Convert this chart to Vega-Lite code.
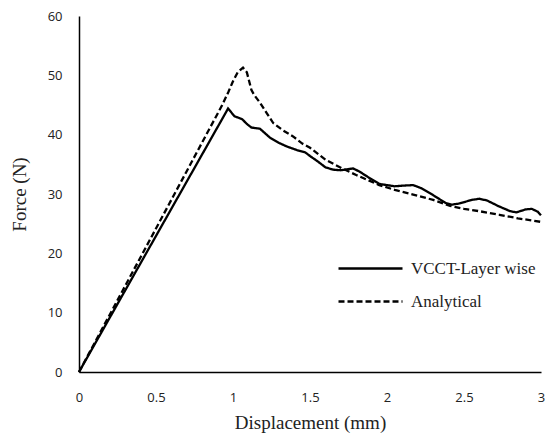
{
  "$schema": "https://vega.github.io/schema/vega-lite/v6.json",
  "width": 462,
  "height": 356,
  "autosize": {"type": "none"},
  "padding": {"left": 79, "top": 16, "right": 6, "bottom": 67},
  "background": "white",
  "config": {"view": {"stroke": null}},
  "data": {"values": [
    {"s": "VCCT-Layer wise", "x": 0, "y": 0},
    {"s": "VCCT-Layer wise", "x": 0.968, "y": 44.4},
    {"s": "VCCT-Layer wise", "x": 1.01, "y": 43.1},
    {"s": "VCCT-Layer wise", "x": 1.06, "y": 42.6},
    {"s": "VCCT-Layer wise", "x": 1.09, "y": 41.8},
    {"s": "VCCT-Layer wise", "x": 1.12, "y": 41.2},
    {"s": "VCCT-Layer wise", "x": 1.175, "y": 41.0},
    {"s": "VCCT-Layer wise", "x": 1.24, "y": 39.5},
    {"s": "VCCT-Layer wise", "x": 1.3, "y": 38.6},
    {"s": "VCCT-Layer wise", "x": 1.35, "y": 38.0},
    {"s": "VCCT-Layer wise", "x": 1.415, "y": 37.4},
    {"s": "VCCT-Layer wise", "x": 1.47, "y": 37.0},
    {"s": "VCCT-Layer wise", "x": 1.5, "y": 36.4},
    {"s": "VCCT-Layer wise", "x": 1.55, "y": 35.5},
    {"s": "VCCT-Layer wise", "x": 1.6, "y": 34.5},
    {"s": "VCCT-Layer wise", "x": 1.65, "y": 34.1},
    {"s": "VCCT-Layer wise", "x": 1.7, "y": 34.0},
    {"s": "VCCT-Layer wise", "x": 1.75, "y": 34.2},
    {"s": "VCCT-Layer wise", "x": 1.78, "y": 34.3},
    {"s": "VCCT-Layer wise", "x": 1.82, "y": 33.8},
    {"s": "VCCT-Layer wise", "x": 1.88, "y": 32.8},
    {"s": "VCCT-Layer wise", "x": 1.95, "y": 31.7},
    {"s": "VCCT-Layer wise", "x": 2.0, "y": 31.5},
    {"s": "VCCT-Layer wise", "x": 2.05, "y": 31.3},
    {"s": "VCCT-Layer wise", "x": 2.1, "y": 31.4},
    {"s": "VCCT-Layer wise", "x": 2.17, "y": 31.5},
    {"s": "VCCT-Layer wise", "x": 2.22, "y": 31.0},
    {"s": "VCCT-Layer wise", "x": 2.3, "y": 29.8},
    {"s": "VCCT-Layer wise", "x": 2.38, "y": 28.5},
    {"s": "VCCT-Layer wise", "x": 2.42, "y": 28.2},
    {"s": "VCCT-Layer wise", "x": 2.47, "y": 28.4},
    {"s": "VCCT-Layer wise", "x": 2.55, "y": 29.0},
    {"s": "VCCT-Layer wise", "x": 2.6, "y": 29.2},
    {"s": "VCCT-Layer wise", "x": 2.65, "y": 28.9},
    {"s": "VCCT-Layer wise", "x": 2.72, "y": 28.0},
    {"s": "VCCT-Layer wise", "x": 2.8, "y": 27.1},
    {"s": "VCCT-Layer wise", "x": 2.84, "y": 26.9},
    {"s": "VCCT-Layer wise", "x": 2.9, "y": 27.4},
    {"s": "VCCT-Layer wise", "x": 2.94, "y": 27.5},
    {"s": "VCCT-Layer wise", "x": 2.98, "y": 27.0},
    {"s": "VCCT-Layer wise", "x": 3.0, "y": 26.4},
    {"s": "Analytical", "x": 0, "y": 0},
    {"s": "Analytical", "x": 0.93, "y": 45.0},
    {"s": "Analytical", "x": 0.97, "y": 47.2},
    {"s": "Analytical", "x": 1.0, "y": 49.0},
    {"s": "Analytical", "x": 1.03, "y": 50.5},
    {"s": "Analytical", "x": 1.065, "y": 51.3},
    {"s": "Analytical", "x": 1.09, "y": 50.5},
    {"s": "Analytical", "x": 1.1, "y": 49.5},
    {"s": "Analytical", "x": 1.12, "y": 47.5},
    {"s": "Analytical", "x": 1.14, "y": 46.6},
    {"s": "Analytical", "x": 1.175, "y": 45.4},
    {"s": "Analytical", "x": 1.22, "y": 43.6},
    {"s": "Analytical", "x": 1.26, "y": 42.0},
    {"s": "Analytical", "x": 1.32, "y": 40.8},
    {"s": "Analytical", "x": 1.39, "y": 39.7},
    {"s": "Analytical", "x": 1.45, "y": 38.5},
    {"s": "Analytical", "x": 1.5, "y": 37.8},
    {"s": "Analytical", "x": 1.6, "y": 35.8},
    {"s": "Analytical", "x": 1.71, "y": 34.3},
    {"s": "Analytical", "x": 1.8, "y": 33.2},
    {"s": "Analytical", "x": 1.95, "y": 31.5},
    {"s": "Analytical", "x": 2.05, "y": 30.7},
    {"s": "Analytical", "x": 2.17, "y": 29.9},
    {"s": "Analytical", "x": 2.3, "y": 29.0},
    {"s": "Analytical", "x": 2.41, "y": 28.0},
    {"s": "Analytical", "x": 2.5, "y": 27.5},
    {"s": "Analytical", "x": 2.6, "y": 27.1},
    {"s": "Analytical", "x": 2.73, "y": 26.5},
    {"s": "Analytical", "x": 2.85, "y": 25.9},
    {"s": "Analytical", "x": 3.0, "y": 25.3}
  ]},
  "mark": {"type": "line", "color": "black", "strokeWidth": 2.3, "clip": false},
  "encoding": {
    "x": {
      "field": "x", "type": "quantitative",
      "scale": {"domain": [0, 3], "nice": false, "zero": false},
      "axis": {
        "values": [0, 0.5, 1, 1.5, 2, 2.5, 3],
        "labelExpr": "datum.value",
        "grid": false, "ticks": false,
        "domainColor": "black", "domainWidth": 1.5,
        "labelFont": "Open Sans", "labelFontSize": 13, "labelColor": "#222",
        "labelPadding": 19, "labelFlush": false,
        "title": "Displacement (mm)",
        "titleFont": "Liberation Serif", "titleFontSize": 19, "titleFontWeight": "normal", "titleColor": "#222",
        "titlePadding": 9
      }
    },
    "y": {
      "field": "y", "type": "quantitative",
      "scale": {"domain": [0, 60], "nice": false},
      "axis": {
        "values": [0, 10, 20, 30, 40, 50, 60],
        "grid": false, "ticks": false,
        "domainColor": "black", "domainWidth": 1.5,
        "labelFont": "Open Sans", "labelFontSize": 13, "labelColor": "#222",
        "labelPadding": 17, "labelFlush": false,
        "title": "Force (N)",
        "titleFont": "Liberation Serif", "titleFontSize": 19, "titleFontWeight": "normal", "titleColor": "#222",
        "titlePadding": 18
      }
    },
    "strokeDash": {
      "field": "s", "type": "nominal",
      "scale": {"domain": ["VCCT-Layer wise", "Analytical"], "range": [[1, 0], [6, 3]]},
      "legend": {
        "orient": "none", "legendX": 258, "legendY": 236,
        "title": null,
        "symbolType": "stroke", "symbolSize": 4096, "symbolStrokeWidth": 2.6, "symbolStrokeColor": "black",
        "labelFont": "Liberation Serif", "labelFontSize": 17, "labelColor": "#222",
        "clipHeight": 33, "rowPadding": 0, "labelOffset": 7
      }
    }
  }
}
